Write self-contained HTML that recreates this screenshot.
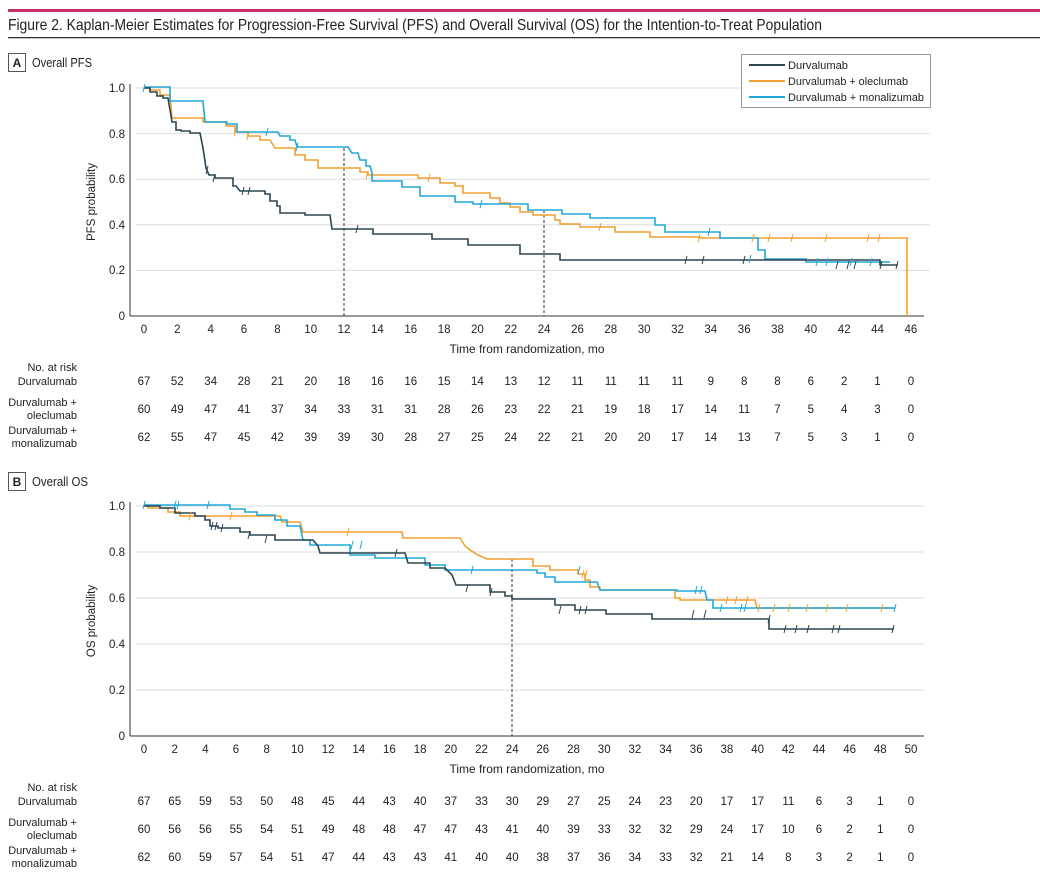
<!DOCTYPE html><html><head><meta charset="utf-8"><style>
body{margin:0;background:#fff;}
svg{display:block;font-family:"Liberation Sans",sans-serif;}
</style></head><body>
<svg width="1040" height="887" viewBox="0 0 1040 887" xmlns="http://www.w3.org/2000/svg">
<rect x="8" y="9" width="1032" height="3" fill="#c8306a"/>
<text x="8" y="30" font-size="16" fill="#222" textLength="814" lengthAdjust="spacingAndGlyphs">Figure 2. Kaplan-Meier Estimates for Progression-Free Survival (PFS) and Overall Survival (OS) for the Intention-to-Treat Population</text>
<rect x="8" y="37" width="1032" height="1.3" fill="#333"/>

<!-- Panel A -->
<rect x="8.5" y="53.5" width="17" height="18" fill="none" stroke="#555"/>
<text x="17" y="67" font-size="12" font-weight="bold" text-anchor="middle" fill="#222">A</text>
<text x="32" y="67" font-size="13" fill="#222" textLength="60" lengthAdjust="spacingAndGlyphs">Overall PFS</text>
<g stroke="#ddd" stroke-width="1">
<line x1="136" y1="88" x2="930" y2="88"/><line x1="136" y1="133.6" x2="930" y2="133.6"/><line x1="136" y1="179.2" x2="930" y2="179.2"/><line x1="136" y1="224.8" x2="930" y2="224.8"/><line x1="136" y1="270.4" x2="930" y2="270.4"/>
</g>
<line x1="130" y1="84" x2="130" y2="316" stroke="#333"/>
<line x1="130" y1="316" x2="924" y2="316" stroke="#333"/>
<g font-size="11.5" fill="#222" text-anchor="end">
<text x="125" y="92">1.0</text><text x="125" y="138">0.8</text><text x="125" y="183">0.6</text><text x="125" y="229">0.4</text><text x="125" y="274">0.2</text><text x="125" y="320">0</text>
</g>
<text transform="translate(95,202) rotate(-90)" font-size="11.5" text-anchor="middle" fill="#222">PFS probability</text>
<g font-size="11.5" fill="#222" text-anchor="middle">
<text x="144" y="333">0</text><text x="177.3" y="333">2</text><text x="210.7" y="333">4</text><text x="244" y="333">6</text><text x="277.4" y="333">8</text><text x="310.7" y="333">10</text><text x="344" y="333">12</text><text x="377.4" y="333">14</text><text x="410.8" y="333">16</text><text x="444.1" y="333">18</text><text x="477.4" y="333">20</text><text x="510.8" y="333">22</text><text x="544.1" y="333">24</text><text x="577.5" y="333">26</text><text x="610.8" y="333">28</text><text x="644.1" y="333">30</text><text x="677.5" y="333">32</text><text x="710.8" y="333">34</text><text x="744.2" y="333">36</text><text x="777.5" y="333">38</text><text x="810.8" y="333">40</text><text x="844.2" y="333">42</text><text x="877.5" y="333">44</text><text x="910.9" y="333">46</text>
</g>
<text x="527" y="353" font-size="12" text-anchor="middle" fill="#222" textLength="155" lengthAdjust="spacingAndGlyphs">Time from randomization, mo</text>
<line x1="344" y1="148" x2="344" y2="316" stroke="#333" stroke-dasharray="3,2"/>
<line x1="544" y1="210" x2="544" y2="316" stroke="#333" stroke-dasharray="3,2"/>
<g fill="none" stroke-width="1.6">
<polyline stroke="#f0a030" points="144,88 150,88 150,90 160,90 160,95 170,95 172,118 203,118 203,122 226,122 226,126 235,126 235,132 248,132 248,136 260,136 260,140 270,140 275,148 295,148 295,155 305,155 305,160 318,160 318,168 360,168 360,172 368,172 368,175 418,175 418,178 440,178 440,183 455,183 455,186 463,186 463,193 490,193 490,198 500,198 500,203 510,203 510,207 520,207 520,212 533,212 533,215 555,215 555,220 560,220 560,224 580,224 580,227 615,227 615,232 650,232 650,237 700,237 700,238 907,238 907,316"/>
<polyline stroke="#20a8d8" points="144,87 170,87 170,101 203,101 205,122 227,122 227,124 237,124 237,132 278,132 280,136 290,136 290,140 295,140 297,147 348,147 352,153 358,153 360,160 366,160 366,166 370,166 372,173 372,181 402,181 402,187 420,187 420,196 455,196 455,202 473,202 473,204 528,204 528,210 562,210 562,214 590,214 590,218 655,218 655,225 665,225 665,232 720,232 720,238 758,238 758,250 765,250 765,259 806,259 806,262 890,262"/>
<polyline stroke="#2d4550" points="144,88 150,88 150,92 157,92 157,96 163,96 163,98 168,98 172,122 176,122 176,130 181,130 181,131 190,131 190,133 200,133 203,148 206,168 209,175 215,175 215,178 233,178 233,186 236,186 240,191 265,191 265,194 270,194 270,201 277,201 277,206 280,206 280,213 305,213 305,215 330,215 332,229 373,229 373,234 432,234 432,239 468,239 468,245 520,245 520,254 560,254 560,260 880,260 880,265 898,265"/>
</g>
<g stroke-width="1" fill="none">
<path stroke="#2d4550" d="M208 166l-2 8M215 174l-2 8M244 187l-2 8M250 187l-2 8M358 225l-2 8M687 256l-2 8M704 256l-2 8M745 256l-2 8M838 261l-2 8M849 261l-2 8M856 261l-2 8M882 261l-2 8M898 261l-2 8"/>
<path stroke="#f0a030" d="M236 128l-2 8M249 132l-2 8M368 171l-2 8M430 174l-2 8M601 223l-2 8M700 234l-2 8M754 234l-2 8M770 234l-2 8M793 234l-2 8M827 234l-2 8M869 234l-2 8M880 234l-2 8"/>
<path stroke="#20a8d8" d="M145 84l-2 8M268 128l-2 8M298 143l-2 8M482 200l-2 8M710 228l-2 8M751 255l-2 8M818 258l-2 8M828 258l-2 8M852 258l-2 8M872 258l-2 8"/>
</g>
<rect x="741.5" y="54.5" width="189" height="53" fill="#fff" stroke="#999"/>
<line x1="749" y1="65" x2="785" y2="65" stroke="#2d4550" stroke-width="2"/>
<line x1="749" y1="81" x2="785" y2="81" stroke="#f0a030" stroke-width="2"/>
<line x1="749" y1="97" x2="785" y2="97" stroke="#20a8d8" stroke-width="2"/>
<g font-size="11" fill="#222"><text x="788" y="69" textLength="60" lengthAdjust="spacingAndGlyphs">Durvalumab</text><text x="788" y="85" textLength="120" lengthAdjust="spacingAndGlyphs">Durvalumab + oleclumab</text><text x="788" y="101" textLength="136" lengthAdjust="spacingAndGlyphs">Durvalumab + monalizumab</text></g>

<g font-size="11" fill="#222" text-anchor="end">
<text x="77" y="371">No. at risk</text><text x="77" y="385">Durvalumab</text>
<text x="77" y="406">Durvalumab +</text><text x="77" y="419">oleclumab</text>
<text x="77" y="434">Durvalumab +</text><text x="77" y="447">monalizumab</text>
</g>
<g font-size="11.5" fill="#222" text-anchor="middle">
<text y="385"><tspan x="144">67</tspan><tspan x="177.3">52</tspan><tspan x="210.7">34</tspan><tspan x="244">28</tspan><tspan x="277.4">21</tspan><tspan x="310.7">20</tspan><tspan x="344">18</tspan><tspan x="377.4">16</tspan><tspan x="410.8">16</tspan><tspan x="444.1">15</tspan><tspan x="477.4">14</tspan><tspan x="510.8">13</tspan><tspan x="544.1">12</tspan><tspan x="577.5">11</tspan><tspan x="610.8">11</tspan><tspan x="644.1">11</tspan><tspan x="677.5">11</tspan><tspan x="710.8">9</tspan><tspan x="744.2">8</tspan><tspan x="777.5">8</tspan><tspan x="810.8">6</tspan><tspan x="844.2">2</tspan><tspan x="877.5">1</tspan><tspan x="910.9">0</tspan></text>
<text y="413"><tspan x="144">60</tspan><tspan x="177.3">49</tspan><tspan x="210.7">47</tspan><tspan x="244">41</tspan><tspan x="277.4">37</tspan><tspan x="310.7">34</tspan><tspan x="344">33</tspan><tspan x="377.4">31</tspan><tspan x="410.8">31</tspan><tspan x="444.1">28</tspan><tspan x="477.4">26</tspan><tspan x="510.8">23</tspan><tspan x="544.1">22</tspan><tspan x="577.5">21</tspan><tspan x="610.8">19</tspan><tspan x="644.1">18</tspan><tspan x="677.5">17</tspan><tspan x="710.8">14</tspan><tspan x="744.2">11</tspan><tspan x="777.5">7</tspan><tspan x="810.8">5</tspan><tspan x="844.2">4</tspan><tspan x="877.5">3</tspan><tspan x="910.9">0</tspan></text>
<text y="441"><tspan x="144">62</tspan><tspan x="177.3">55</tspan><tspan x="210.7">47</tspan><tspan x="244">45</tspan><tspan x="277.4">42</tspan><tspan x="310.7">39</tspan><tspan x="344">39</tspan><tspan x="377.4">30</tspan><tspan x="410.8">28</tspan><tspan x="444.1">27</tspan><tspan x="477.4">25</tspan><tspan x="510.8">24</tspan><tspan x="544.1">22</tspan><tspan x="577.5">21</tspan><tspan x="610.8">20</tspan><tspan x="644.1">20</tspan><tspan x="677.5">17</tspan><tspan x="710.8">14</tspan><tspan x="744.2">13</tspan><tspan x="777.5">7</tspan><tspan x="810.8">5</tspan><tspan x="844.2">3</tspan><tspan x="877.5">1</tspan><tspan x="910.9">0</tspan></text>
</g>

<!-- Panel B -->
<rect x="8.5" y="472.5" width="17" height="18" fill="none" stroke="#555"/>
<text x="17" y="486" font-size="12" font-weight="bold" text-anchor="middle" fill="#222">B</text>
<text x="32" y="486" font-size="13" fill="#222" textLength="56" lengthAdjust="spacingAndGlyphs">Overall OS</text>
<g stroke="#ddd" stroke-width="1">
<line x1="136" y1="506" x2="924" y2="506"/><line x1="136" y1="552" x2="924" y2="552"/><line x1="136" y1="598" x2="924" y2="598"/><line x1="136" y1="644" x2="924" y2="644"/><line x1="136" y1="690" x2="924" y2="690"/>
</g>
<line x1="130" y1="502" x2="130" y2="736" stroke="#333"/>
<line x1="130" y1="736" x2="924" y2="736" stroke="#333"/>
<g font-size="11.5" fill="#222" text-anchor="end">
<text x="125" y="510">1.0</text><text x="125" y="556">0.8</text><text x="125" y="602">0.6</text><text x="125" y="648">0.4</text><text x="125" y="694">0.2</text><text x="125" y="740">0</text>
</g>
<text transform="translate(95,621) rotate(-90)" font-size="11.5" text-anchor="middle" fill="#222">OS probability</text>
<g font-size="11.5" fill="#222" text-anchor="middle">
<text x="144" y="753">0</text><text x="174.7" y="753">2</text><text x="205.4" y="753">4</text><text x="236" y="753">6</text><text x="266.7" y="753">8</text><text x="297.4" y="753">10</text><text x="328.1" y="753">12</text><text x="358.8" y="753">14</text><text x="389.4" y="753">16</text><text x="420.1" y="753">18</text><text x="450.8" y="753">20</text><text x="481.5" y="753">22</text><text x="512.2" y="753">24</text><text x="542.8" y="753">26</text><text x="573.5" y="753">28</text><text x="604.2" y="753">30</text><text x="634.9" y="753">32</text><text x="665.6" y="753">34</text><text x="696.2" y="753">36</text><text x="726.9" y="753">38</text><text x="757.6" y="753">40</text><text x="788.3" y="753">42</text><text x="819" y="753">44</text><text x="849.6" y="753">46</text><text x="880.3" y="753">48</text><text x="911" y="753">50</text>
</g>
<text x="527" y="773" font-size="12" text-anchor="middle" fill="#222" textLength="155" lengthAdjust="spacingAndGlyphs">Time from randomization, mo</text>
<line x1="512" y1="559" x2="512" y2="736" stroke="#333" stroke-dasharray="3,2"/>
<g fill="none" stroke-width="1.6">
<polyline stroke="#f0a030" points="144,505 148,505 148,508 168,508 168,512 180,512 180,516 280,516 282,522 300,522 303,532 402,532 403,538 460,538 465,546 470,550 478,555 487,559 533,559 533,566 550,566 550,570 578,570 578,574 585,574 585,580 590,580 590,587 600,587 600,590 675,590 675,598 680,598 680,600 755,600 757,608 895,608"/>
<polyline stroke="#20a8d8" points="144,505 230,505 230,509 245,509 245,512 257,512 257,515 275,515 275,520 287,520 287,526 300,526 303,540 310,540 310,545 350,545 350,555 375,555 375,558 425,558 425,565 445,565 445,570 537,570 537,573 545,573 545,577 555,577 555,582 597,582 600,590 677,590 677,591 705,591 707,600 713,600 713,608 895,608"/>
<polyline stroke="#2d4550" points="144,506 160,506 160,508 175,508 175,513 195,513 195,516 205,516 205,520 210,520 210,526 218,526 218,528 240,528 240,532 250,532 250,535 275,535 275,540 313,540 318,546 320,553 405,553 408,563 430,563 430,568 445,568 452,575 456,585 490,585 490,592 505,592 505,596 512,596 512,599 555,599 555,605 575,605 575,610 606,610 606,614 652,614 652,619 769,619 769,629 894,629"/>
</g>
<g stroke-width="1" fill="none">
<path stroke="#2d4550" d="M213 522l-2 8M217 522l-2 8M223 524l-2 8M250 531l-2 8M267 535l-2 8M397 549l-2 8M468 584l-2 8M492 588l-2 8M561 606l-2 8M581 606l-2 8M587 606l-2 8M694 610l-2 8M706 610l-2 8M770 615l-2 8M786 625l-2 8M797 625l-2 8M809 625l-2 8M834 625l-2 8M840 625l-2 8M894 625l-2 8"/>
<path stroke="#f0a030" d="M191 512l-2 8M232 512l-2 8M349 528l-2 8M584 570l-2 8M587 570l-2 8M728 596l-2 8M737 596l-2 8M748 596l-2 8M760 604l-2 8M775 604l-2 8M790 604l-2 8M808 604l-2 8M828 604l-2 8M848 604l-2 8M883 604l-2 8"/>
<path stroke="#20a8d8" d="M145 501l-2 8M176 501l-2 8M179 501l-2 8M209 501l-2 8M353 541l-2 8M362 541l-2 8M473 566l-2 8M580 566l-2 8M697 586l-2 8M702 586l-2 8M722 604l-2 8M742 604l-2 8M746 604l-2 8M896 604l-2 8"/>
</g>
<g font-size="11" fill="#222" text-anchor="end">
<text x="77" y="791">No. at risk</text><text x="77" y="805">Durvalumab</text>
<text x="77" y="826">Durvalumab +</text><text x="77" y="839">oleclumab</text>
<text x="77" y="854">Durvalumab +</text><text x="77" y="867">monalizumab</text>
</g>
<g font-size="11.5" fill="#222" text-anchor="middle">
<text y="805"><tspan x="144">67</tspan><tspan x="174.7">65</tspan><tspan x="205.4">59</tspan><tspan x="236">53</tspan><tspan x="266.7">50</tspan><tspan x="297.4">48</tspan><tspan x="328.1">45</tspan><tspan x="358.8">44</tspan><tspan x="389.4">43</tspan><tspan x="420.1">40</tspan><tspan x="450.8">37</tspan><tspan x="481.5">33</tspan><tspan x="512.2">30</tspan><tspan x="542.8">29</tspan><tspan x="573.5">27</tspan><tspan x="604.2">25</tspan><tspan x="634.9">24</tspan><tspan x="665.6">23</tspan><tspan x="696.2">20</tspan><tspan x="726.9">17</tspan><tspan x="757.6">17</tspan><tspan x="788.3">11</tspan><tspan x="819">6</tspan><tspan x="849.6">3</tspan><tspan x="880.3">1</tspan><tspan x="911">0</tspan></text>
<text y="833"><tspan x="144">60</tspan><tspan x="174.7">56</tspan><tspan x="205.4">56</tspan><tspan x="236">55</tspan><tspan x="266.7">54</tspan><tspan x="297.4">51</tspan><tspan x="328.1">49</tspan><tspan x="358.8">48</tspan><tspan x="389.4">48</tspan><tspan x="420.1">47</tspan><tspan x="450.8">47</tspan><tspan x="481.5">43</tspan><tspan x="512.2">41</tspan><tspan x="542.8">40</tspan><tspan x="573.5">39</tspan><tspan x="604.2">33</tspan><tspan x="634.9">32</tspan><tspan x="665.6">32</tspan><tspan x="696.2">29</tspan><tspan x="726.9">24</tspan><tspan x="757.6">17</tspan><tspan x="788.3">10</tspan><tspan x="819">6</tspan><tspan x="849.6">2</tspan><tspan x="880.3">1</tspan><tspan x="911">0</tspan></text>
<text y="861"><tspan x="144">62</tspan><tspan x="174.7">60</tspan><tspan x="205.4">59</tspan><tspan x="236">57</tspan><tspan x="266.7">54</tspan><tspan x="297.4">51</tspan><tspan x="328.1">47</tspan><tspan x="358.8">44</tspan><tspan x="389.4">43</tspan><tspan x="420.1">43</tspan><tspan x="450.8">41</tspan><tspan x="481.5">40</tspan><tspan x="512.2">40</tspan><tspan x="542.8">38</tspan><tspan x="573.5">37</tspan><tspan x="604.2">36</tspan><tspan x="634.9">34</tspan><tspan x="665.6">33</tspan><tspan x="696.2">32</tspan><tspan x="726.9">21</tspan><tspan x="757.6">14</tspan><tspan x="788.3">8</tspan><tspan x="819">3</tspan><tspan x="849.6">2</tspan><tspan x="880.3">1</tspan><tspan x="911">0</tspan></text>
</g>
</svg>
</body></html>
